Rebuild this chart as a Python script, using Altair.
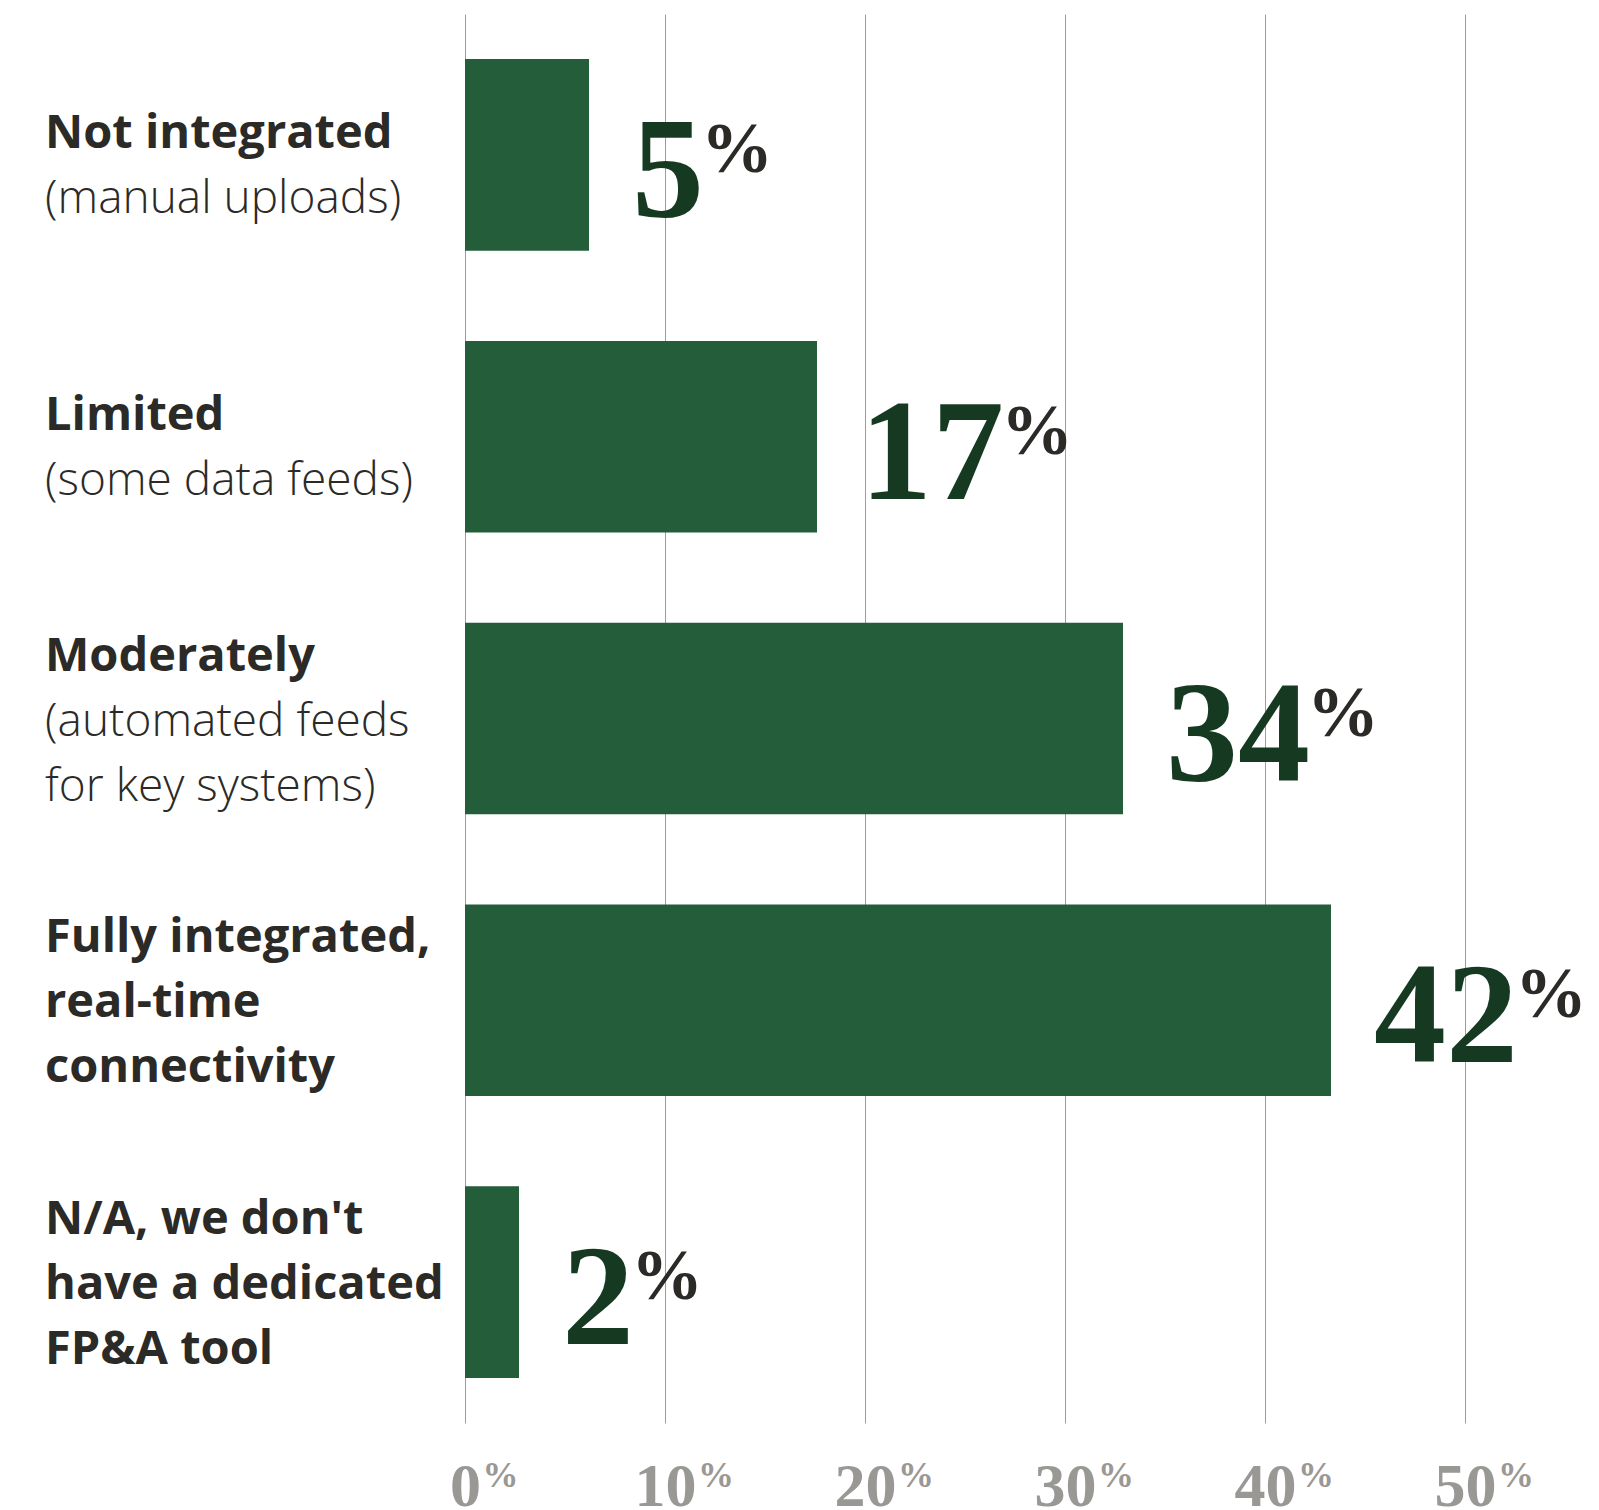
import altair as alt
import pandas as pd

categories = ["Not integrated", "Limited", "Moderately", "Fully integrated", "N/A"]
bold_lines = [
    "Not integrated\n",
    "Limited\n",
    "Moderately\n\n",
    "Fully integrated,\nreal-time\nconnectivity",
    "N/A, we don't\nhave a dedicated\nFP&A tool",
]
light_lines = [
    "\n(manual uploads)",
    "\n(some data feeds)",
    "\n(automated feeds\nfor key systems)",
    "",
    "",
]
line_counts = [2, 2, 3, 3, 3]
bar_values = [6.2, 17.6, 32.9, 43.3, 2.7]
value_labels = ["5", "17", "34", "42", "2"]
tick_values = [0, 10, 20, 30, 40, 50]

df = pd.DataFrame({
    "cat": categories,
    "value": bar_values,
    "num": value_labels,
    "bold": bold_lines,
    "light": light_lines,
    "n": line_counts,
})
ticks_df = pd.DataFrame({"tick": tick_values})

xscale = alt.Scale(domain=[0, 50], nice=False, zero=True)
y = alt.Y("cat:N", sort=categories, axis=None,
          scale=alt.Scale(paddingInner=0.32, paddingOuter=0.16))

base = alt.Chart(df)

bars = base.mark_bar(color="#245D39").encode(
    x=alt.X("value:Q", scale=xscale,
            axis=alt.Axis(values=tick_values, grid=True, gridColor="#9c9c9c", gridWidth=1,
                          ticks=False, domain=False, labelExpr="datum.value",
                          labelFont="Liberation Serif", labelFontSize=62,
                          labelFontWeight="bold",
                          labelColor="#9a9895", labelBaseline="alphabetic",
                          labelPadding=82, labelFlush=False, labelOverlap=False,
                          title=None)),
    y=y,
)

nums = base.mark_text(align="left", baseline="alphabetic", dx=43, dy=62,
                      font="Liberation Serif", fontWeight="bold", fontSize=144,
                      color="#163a21").encode(
    x=alt.X("value:Q", scale=xscale), y=y, text="num:N")

pcts = base.transform_calculate(
    pct_pos="datum.value + (40 + 72*length(datum.num))/20", pct="'%'"
).mark_text(align="left", baseline="alphabetic", dy=17,
            font="Liberation Serif", fontWeight="bold", fontSize=72,
            color="#2b2a27").encode(
    x=alt.X("pct_pos:Q", scale=xscale), y=y, text="pct:N")

LH = 65
label_layers = []
for n_lines, shift in [(2, -21), (3, -62)]:
    sub = base.transform_filter(alt.datum.n == n_lines)
    label_layers.append(
        sub.mark_text(align="left", baseline="middle", lineBreak="\n", lineHeight=LH,
                      dy=shift, font="Open Sans", fontWeight=700, fontSize=47,
                      color="#2b2a27").encode(x=alt.value(-420), y=y, text="bold:N"))
    label_layers.append(
        sub.mark_text(align="left", baseline="middle", lineBreak="\n", lineHeight=LH,
                      dy=shift, font="Open Sans", fontWeight=300, fontSize=46,
                      color="#2b2a27").encode(x=alt.value(-420), y=y, text="light:N"))

axis_pct = alt.Chart(ticks_df).transform_calculate(
    pos="datum.tick + (2 + length(toString(datum.tick))*15.5)/20", pct="'%'"
).mark_text(align="left", baseline="alphabetic", font="Liberation Serif",
            fontWeight="bold", fontSize=36, color="#9a9895").encode(
    x=alt.X("pos:Q", scale=xscale), y=alt.value(1473), text="pct:N")

chart = alt.layer(bars, nums, pcts, *label_layers, axis_pct).properties(
    width=1000, height=1409,
    autosize=alt.AutoSizeParams(type="none"),
    padding={"left": 465, "top": 14, "right": 134, "bottom": 87},
    background="white",
).configure_view(strokeWidth=0)

chart.save("out.html", embed_options={"renderer": "svg", "actions": False})
